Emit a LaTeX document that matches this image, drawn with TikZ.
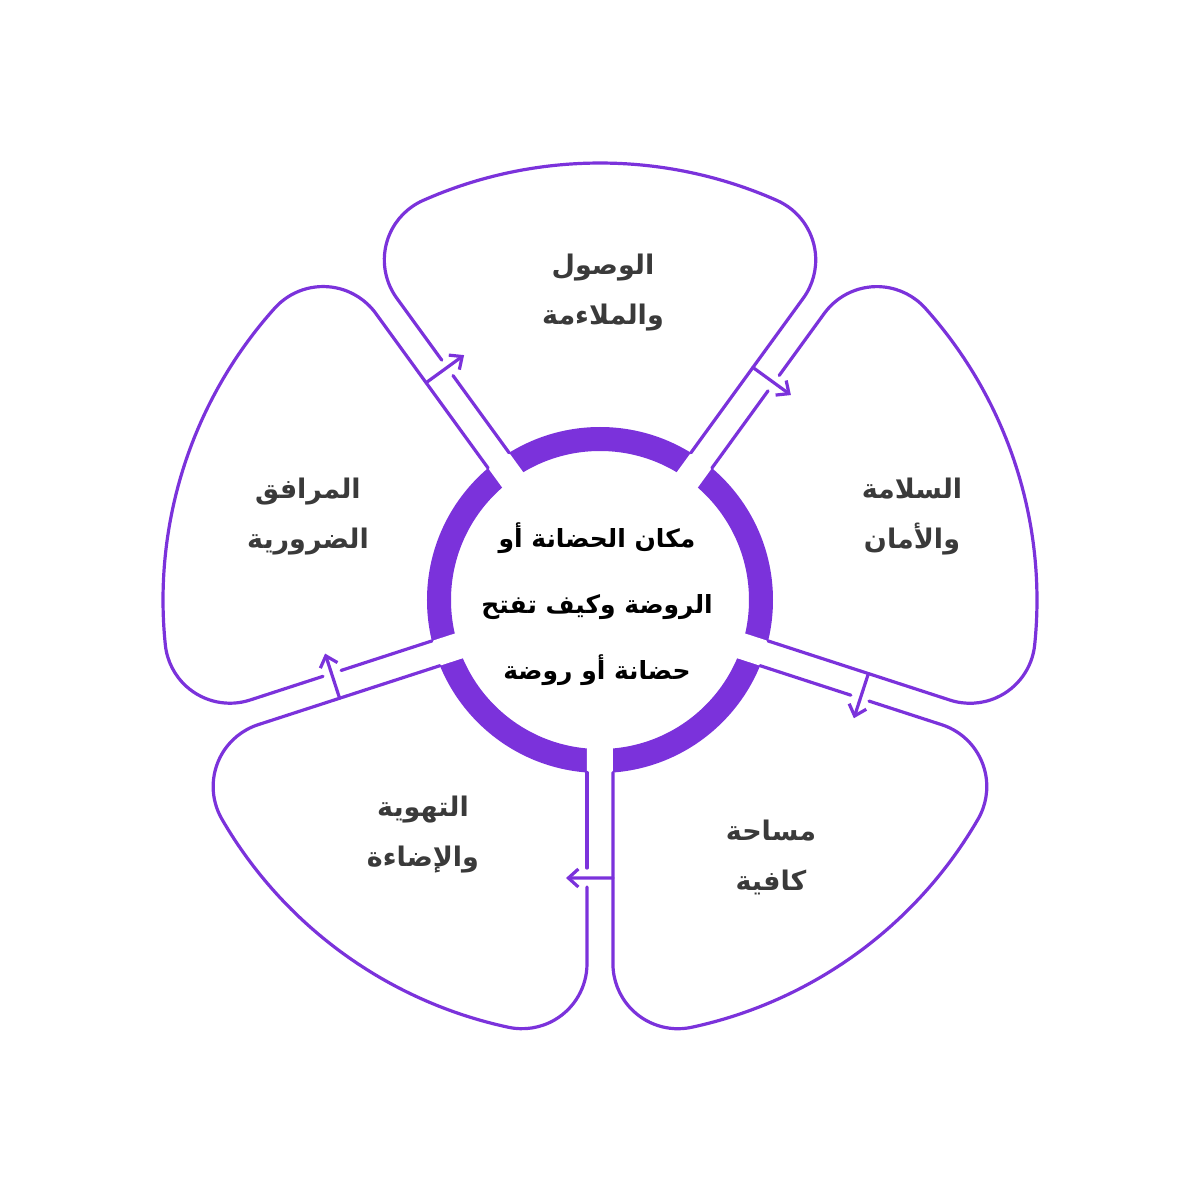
\documentclass[tikz,border=0pt]{standalone}
\usepackage{fontspec}
\usepackage{tikz}
\usetikzlibrary{calc,arrows.meta}
\TeXXeTstate=1
\newfontfamily\arabicfont[Script=Arabic]{DejaVu Sans}
\definecolor{petalpurple}{RGB}{123,50,219}
\definecolor{labelgray}{RGB}{58,58,58}

\begin{document}
\begin{tikzpicture}[x=0.5pt, y=0.5pt, >={Straight Barb[length=5pt,width=9pt]}]
\tikzstyle{petal} = [draw=petalpurple, line width=1.6pt, line cap=round]
\tikzstyle{flow} = [draw=petalpurple, ->, line width=1.6pt, line cap=round]
\tikzstyle{channel} = [fill=white]
\tikzstyle{petaltext} = [align=center, text=labelgray, font=\arabicfont\bfseries\fontsize{13.5}{25}\selectfont]
\tikzstyle{hubtext} = [align=center, text=black, font=\arabicfont\bfseries\fontsize{12.5}{33}\selectfont]

\useasboundingbox (-600,-600) rectangle (600,600);

% Ring around the centre, cut by the five channels
\draw [petalpurple, line width=12pt] (0,0) circle (161);
\fill [channel, rotate=0] ($(126:140)+(216:13)$) -- ($(126:180)+(216:13)$) -- ($(126:180)+(36:13)$) -- ($(126:140)+(36:13)$) -- cycle;
\fill [channel, rotate=-72] ($(126:140)+(216:13)$) -- ($(126:180)+(216:13)$) -- ($(126:180)+(36:13)$) -- ($(126:140)+(36:13)$) -- cycle;
\fill [channel, rotate=-144] ($(126:140)+(216:13)$) -- ($(126:180)+(216:13)$) -- ($(126:180)+(36:13)$) -- ($(126:140)+(36:13)$) -- cycle;
\fill [channel, rotate=144] ($(126:140)+(216:13)$) -- ($(126:180)+(216:13)$) -- ($(126:180)+(36:13)$) -- ($(126:140)+(36:13)$) -- cycle;
\fill [channel, rotate=72] ($(126:140)+(216:13)$) -- ($(126:180)+(216:13)$) -- ($(126:180)+(36:13)$) -- ($(126:140)+(36:13)$) -- cycle;

% Petals, each with the arrow coming in through its left wall
\begin{scope}[rotate=0]
\draw [petal] ($(126:287)+(36:13)$) -- ($(126:363.7)+(36:13)$) arc[start angle=216, end angle=113.9, radius=65] arc[start angle=113.9, end angle=66.1, radius=437] arc[start angle=66.1, end angle=-36, radius=65] -- ($(54:172.5)+(144:13)$);
\draw [petal] ($(126:172.5)+(36:13)$) -- ($(126:268)+(36:13)$);
\coordinate (top in) at ($(126:278)+(216:13)$);
\coordinate (top tip) at ($(126:278)+(36:34)$);
\draw [flow] (top in) -- (top tip);
\end{scope}

\begin{scope}[rotate=-72]
\draw [petal] ($(126:287)+(36:13)$) -- ($(126:363.7)+(36:13)$) arc[start angle=216, end angle=113.9, radius=65] arc[start angle=113.9, end angle=66.1, radius=437] arc[start angle=66.1, end angle=-36, radius=65] -- ($(54:172.5)+(144:13)$);
\draw [petal] ($(126:172.5)+(36:13)$) -- ($(126:268)+(36:13)$);
\coordinate (right in) at ($(126:278)+(216:13)$);
\coordinate (right tip) at ($(126:278)+(36:34)$);
\draw [flow] (right in) -- (right tip);
\end{scope}

\begin{scope}[rotate=-144]
\draw [petal] ($(126:287)+(36:13)$) -- ($(126:363.7)+(36:13)$) arc[start angle=216, end angle=113.9, radius=65] arc[start angle=113.9, end angle=66.1, radius=437] arc[start angle=66.1, end angle=-36, radius=65] -- ($(54:172.5)+(144:13)$);
\draw [petal] ($(126:172.5)+(36:13)$) -- ($(126:268)+(36:13)$);
\coordinate (lowright in) at ($(126:278)+(216:13)$);
\coordinate (lowright tip) at ($(126:278)+(36:34)$);
\draw [flow] (lowright in) -- (lowright tip);
\end{scope}

\begin{scope}[rotate=144]
\draw [petal] ($(126:287)+(36:13)$) -- ($(126:363.7)+(36:13)$) arc[start angle=216, end angle=113.9, radius=65] arc[start angle=113.9, end angle=66.1, radius=437] arc[start angle=66.1, end angle=-36, radius=65] -- ($(54:172.5)+(144:13)$);
\draw [petal] ($(126:172.5)+(36:13)$) -- ($(126:268)+(36:13)$);
\coordinate (lowleft in) at ($(126:278)+(216:13)$);
\coordinate (lowleft tip) at ($(126:278)+(36:34)$);
\draw [flow] (lowleft in) -- (lowleft tip);
\end{scope}

\begin{scope}[rotate=72]
\draw [petal] ($(126:287)+(36:13)$) -- ($(126:363.7)+(36:13)$) arc[start angle=216, end angle=113.9, radius=65] arc[start angle=113.9, end angle=66.1, radius=437] arc[start angle=66.1, end angle=-36, radius=65] -- ($(54:172.5)+(144:13)$);
\draw [petal] ($(126:172.5)+(36:13)$) -- ($(126:268)+(36:13)$);
\coordinate (left in) at ($(126:278)+(216:13)$);
\coordinate (left tip) at ($(126:278)+(36:34)$);
\draw [flow] (left in) -- (left tip);
\end{scope}

% Texts
\node [hubtext] (place) at (-3,-4) {\beginR مكان الحضانة أو\endR\\\beginR الروضة وكيف تفتح\endR\\\beginR حضانة أو روضة\endR};
\node [petaltext] (access) at (3,307) {\beginR الوصول\endR\\\beginR والملاءمة\endR};
\node [petaltext] (safety) at (312,83) {\beginR السلامة\endR\\\beginR والأمان\endR};
\node [petaltext] (space) at (171,-257) {\beginR مساحة\endR\\\beginR كافية\endR};
\node [petaltext] (light) at (-177,-235) {\beginR التهوية\endR\\\beginR والإضاءة\endR};
\node [petaltext] (needs) at (-292,83) {\beginR المرافق\endR\\\beginR الضرورية\endR};

\end{tikzpicture}
\end{document}
